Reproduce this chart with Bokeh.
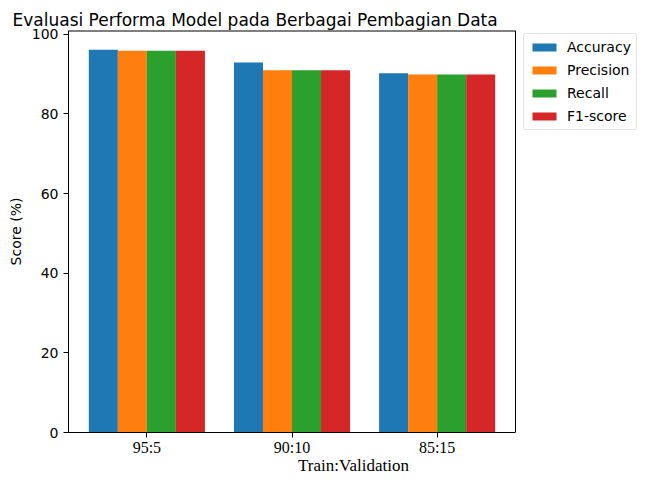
from bokeh.plotting import figure
from bokeh.models import ColumnDataSource, Range1d, FixedTicker, Legend, LegendItem
from bokeh.transform import dodge
from bokeh.embed import file_html
from bokeh.resources import INLINE

categories = ["95:5", "90:10", "85:15"]
accuracy = [96.15, 92.9, 90.2]
precision = [95.9, 91.0, 89.9]
recall = [95.9, 91.0, 89.9]
f1_score = [95.9, 91.0, 89.9]
series_names = ["Accuracy", "Precision", "Recall", "F1-score"]
series_values = [accuracy, precision, recall, f1_score]
colors = ["#1f77b4", "#ff7f0e", "#2ca02c", "#d62728"]
y_ticks = [0, 20, 40, 60, 80, 100]

W, H = 638, 477
LEFT, TOP, BOTTOM = 68, 30, 36
AX_RIGHT = 515          # pixel where the axes box ends; legend lives to its right

bar_w = 0.2
data = dict(x=list(range(len(categories))))
for n, v in zip(series_names, series_values):
    data[n] = v
src = ColumnDataSource(data)

ymax = max(max(v) for v in series_values) * 1.05
n_cat = len(categories)
pad = 0.05 * (n_cat - 1 + 4 * bar_w)
xlo = -2 * bar_w - pad
xhi = n_cat - 1 + 2 * bar_w + pad
frame_w = W - LEFT
x_end = xlo + (xhi - xlo) * frame_w / (AX_RIGHT - LEFT)

p = figure(width=W, height=H, output_backend="svg", toolbar_location=None,
           x_range=Range1d(xlo, x_end), y_range=Range1d(0, ymax),
           min_border_left=LEFT, min_border_right=0, min_border_top=TOP,
           min_border_bottom=BOTTOM)

renderers = []
for j, (n, c) in enumerate(zip(series_names, colors)):
    r = p.vbar(x=dodge("x", (j - 1.5) * bar_w, range=p.x_range), top=n, width=bar_w,
               source=src, fill_color=c, line_color=None)
    renderers.append(r)

# axes box (top and right spines) limited to the data area
p.segment(x0=[xlo], y0=[ymax], x1=[xhi], y1=[ymax], line_color="black", line_width=2)
p.segment(x0=[xhi], y0=[0], x1=[xhi], y1=[ymax], line_color="black", line_width=1)

p.xgrid.visible = False
p.ygrid.visible = False
p.outline_line_color = None
p.background_fill_color = "white"
p.border_fill_color = "white"

p.title.text = "Evaluasi Performa Model pada Berbagai Pembagian Data"
p.title.text_font = "DejaVu Sans"
p.title.text_font_size = "17px"
p.title.text_font_style = "normal"
p.title.align = "left"
p.title.offset = -56
p.title.text_color = "black"
p.title.standoff = 2

ya = p.yaxis[0]
ya.ticker = FixedTicker(ticks=y_ticks)
ya.minor_tick_line_color = None
ya.major_tick_out = 5
ya.major_tick_in = 0
ya.major_label_text_font = "DejaVu Sans"
ya.major_label_text_font_size = "14px"
ya.major_label_text_color = "black"
ya.axis_label = "Score (%)"
ya.axis_label_text_font = "DejaVu Sans"
ya.axis_label_text_font_size = "14px"
ya.axis_label_text_font_style = "normal"
ya.axis_label_text_color = "black"
ya.axis_label_standoff = 5
ya.axis_line_color = "black"

xa = p.xaxis[0]
xa.ticker = FixedTicker(ticks=list(range(n_cat)))
xa.major_label_overrides = {i: c for i, c in enumerate(categories)}
xa.bounds = (xlo, xhi)
xa.minor_tick_line_color = None
xa.major_tick_out = 5
xa.major_tick_in = 0
xa.major_label_standoff = 1
xa.major_label_text_font = "Liberation Serif"
xa.major_label_text_font_size = "16px"
xa.major_label_text_color = "black"
xa.axis_label = "Train:Validation"
xa.axis_label_text_font = "Liberation Serif"
xa.axis_label_text_font_size = "17px"
xa.axis_label_text_font_style = "normal"
xa.axis_label_text_color = "black"
xa.axis_label_standoff = -3
xa.axis_line_color = "black"

legend = Legend(items=[LegendItem(label=n, renderers=[r]) for n, r in zip(series_names, renderers)],
                location=(AX_RIGHT - LEFT + 8, 302))
legend.label_text_font = "DejaVu Sans"
legend.label_text_font_size = "14px"
legend.label_text_color = "black"
legend.glyph_width = 30
legend.glyph_height = 10
legend.label_height = 16
legend.label_standoff = 8
legend.spacing = 7
legend.padding = 5
legend.margin = 0
legend.border_line_color = "#cccccc"
legend.border_line_width = 1
legend.border_radius = 3
legend.background_fill_color = "white"
legend.background_fill_alpha = 1.0
p.add_layout(legend, "center")

open("out.html", "w").write(file_html(p, INLINE))
